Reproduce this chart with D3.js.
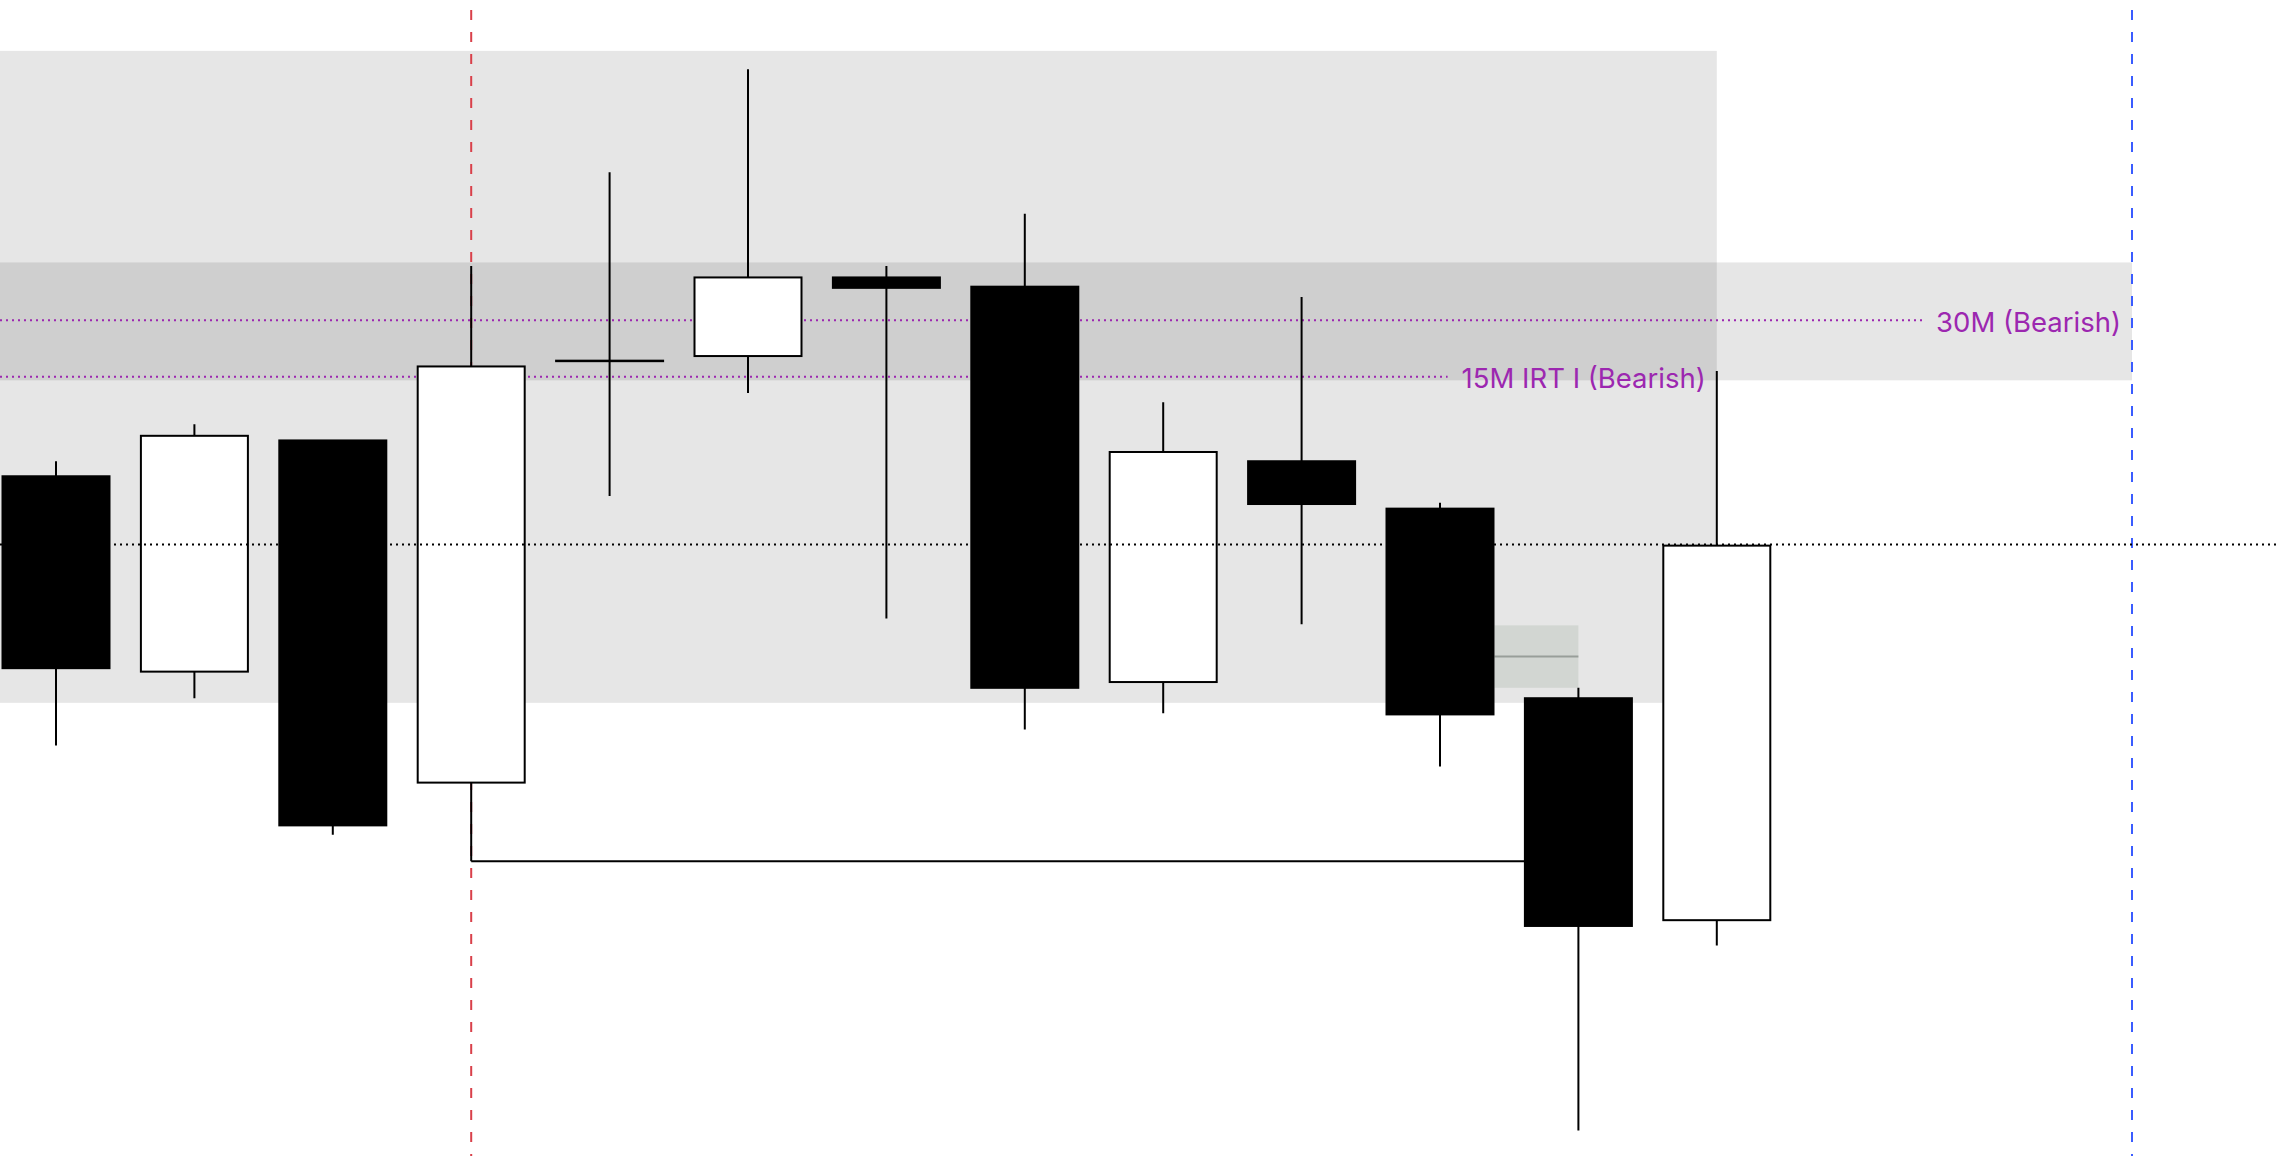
<!DOCTYPE html>
<html>
<head>
<meta charset="utf-8">
<script src="https://cdn.jsdelivr.net/npm/d3@7"></script>
<style>
  html, body { margin: 0; padding: 0; background: #ffffff; }
  svg { display: block; }
</style>
</head>
<body>
<svg id="chart" width="2276" height="1156"></svg>
<script>
// ---- Data (price units) ----
const candleIndex = [0, 1, 2, 3, 4, 5, 6, 7, 8, 9, 10, 11, 12];
const opens  = [58.8, 41.9, 61.9, 32.3, 68.8, 69.2, 76.0, 75.2, 41.0, 60.1, 56.0, 39.6, 20.4];
const closes = [42.2, 62.3, 28.6, 68.3, 68.8, 76.0, 75.1, 40.5, 60.9, 56.4, 38.2, 19.9, 52.8];
const highs  = [60.1, 63.3, 61.9, 77.0, 85.1, 94.0, 77.0, 81.5, 65.2, 74.3, 56.5, 40.5, 67.9];
const lows   = [35.5, 39.6, 27.8, 25.5, 57.1, 66.0, 46.5, 36.9, 38.3, 46.0, 33.7, 2.2, 18.2];

// zones: [startIndex, endIndex, top price, bottom price]
const zoneStart  = [null, null];        // null = from the left edge
const zoneEnd    = [12, 15];
const zoneTop    = [95.6, 77.3];
const zoneBottom = [39.2, 67.1];

// levels
const levelLabels = ["30M (Bearish)", "15M IRT I (Bearish)"];
const levelPrices = [72.3, 67.4];
const levelEnds   = [15, 12];

const redLineIndex = 3;
const blueLineIndex = 15;
const dottedPrice = 52.9;

// gap box between candle 11 and 12
const gapBoxFrom = 10, gapBoxTo = 11;
const gapBoxTop = 45.9, gapBoxBottom = 40.5;

// horizontal line from candle 4 low
const sweepFrom = 3, sweepTo = 11;

// ---- Scales ----
const W = 2276, H = 1156;
const x = d3.scaleLinear().domain([0, 15]).range([56, 2132]);
const y = d3.scaleLinear().domain([0, 100]).range([H, 0]);
const bodyW = 107;

const svg = d3.select("#chart");
svg.append("rect").attr("width", W).attr("height", H).attr("fill", "#ffffff");

// zones
const zones = zoneEnd.map((e, i) => ({start: zoneStart[i], end: e, top: zoneTop[i], bottom: zoneBottom[i]}));
svg.append("g").selectAll("rect").data(zones).join("rect")
  .attr("x", d => d.start === null ? 0 : x(d.start))
  .attr("width", d => x(d.end) - (d.start === null ? 0 : x(d.start)))
  .attr("y", d => y(d.top))
  .attr("height", d => y(d.bottom) - y(d.top))
  .attr("fill", "#000000")
  .attr("fill-opacity", 0.098);

// vertical dashed lines
svg.append("line")
  .attr("x1", x(redLineIndex)).attr("x2", x(redLineIndex))
  .attr("y1", 0).attr("y2", H)
  .attr("stroke", "#d9404a").attr("stroke-width", 2)
  .attr("stroke-dasharray", "10,12").attr("stroke-dashoffset", 12);
svg.append("line")
  .attr("x1", x(blueLineIndex)).attr("x2", x(blueLineIndex))
  .attr("y1", 0).attr("y2", H)
  .attr("stroke", "#3a5cff").attr("stroke-width", 2)
  .attr("stroke-dasharray", "10,12").attr("stroke-dashoffset", 12);

// levels with labels
const levels = levelLabels.map((t, i) => ({label: t, price: levelPrices[i], end: levelEnds[i]}));
const lg = svg.append("g");
levels.forEach(d => {
  const t = lg.append("text")
    .attr("x", x(d.end) - 11)
    .attr("y", y(d.price) + 4)
    .attr("text-anchor", "end")
    .attr("dominant-baseline", "middle")
    .attr("font-family", "Inter, 'Noto Sans', sans-serif")
    .attr("font-size", 27.5)
    .attr("fill", "#9c27b0")
    .text(d.label);
  const len = t.node().getComputedTextLength();
  lg.insert("line", "text")
    .attr("x1", 0).attr("x2", x(d.end) - 11 - len - 14)
    .attr("y1", y(d.price)).attr("y2", y(d.price))
    .attr("stroke", "#9c27b0").attr("stroke-width", 2)
    .attr("stroke-dasharray", "2,4");
});

// gap box
svg.append("rect")
  .attr("x", x(gapBoxFrom) + (bodyW + 2) / 2)
  .attr("width", x(gapBoxTo) - x(gapBoxFrom) - (bodyW + 2) / 2)
  .attr("y", y(gapBoxTop))
  .attr("height", y(gapBoxBottom) - y(gapBoxTop))
  .attr("fill", "#d2d6d2");
svg.append("line")
  .attr("x1", x(gapBoxFrom) + (bodyW + 2) / 2).attr("x2", x(gapBoxTo))
  .attr("y1", y((gapBoxTop + gapBoxBottom) / 2)).attr("y2", y((gapBoxTop + gapBoxBottom) / 2))
  .attr("stroke", "#989e99").attr("stroke-width", 2);

// sweep line from candle 4 low
svg.append("line")
  .attr("x1", x(sweepFrom)).attr("x2", x(sweepTo))
  .attr("y1", y(lows[sweepFrom])).attr("y2", y(lows[sweepFrom]))
  .attr("stroke", "#000000").attr("stroke-width", 2);

// candles
const candles = candleIndex.map(i => ({i, o: opens[i], c: closes[i], h: highs[i], l: lows[i]}));
const cg = svg.append("g").selectAll("g").data(candles).join("g");
cg.append("line")
  .attr("x1", d => x(d.i)).attr("x2", d => x(d.i))
  .attr("y1", d => y(d.h)).attr("y2", d => y(d.l))
  .attr("stroke", "#000000").attr("stroke-width", 2);
cg.append("rect")
  .attr("x", d => x(d.i) - bodyW / 2)
  .attr("width", bodyW)
  .attr("y", d => y(Math.max(d.o, d.c)))
  .attr("height", d => Math.max(0.5, Math.abs(y(d.o) - y(d.c))))
  .attr("fill", d => d.c < d.o ? "#000000" : "#ffffff")
  .attr("stroke", "#000000").attr("stroke-width", 2);

// black dotted level (on top)
svg.append("line")
  .attr("x1", 0).attr("x2", W)
  .attr("y1", y(dottedPrice)).attr("y2", y(dottedPrice))
  .attr("stroke", "#000000").attr("stroke-width", 2)
  .attr("stroke-dasharray", "2,4");
</script>
</body>
</html>
